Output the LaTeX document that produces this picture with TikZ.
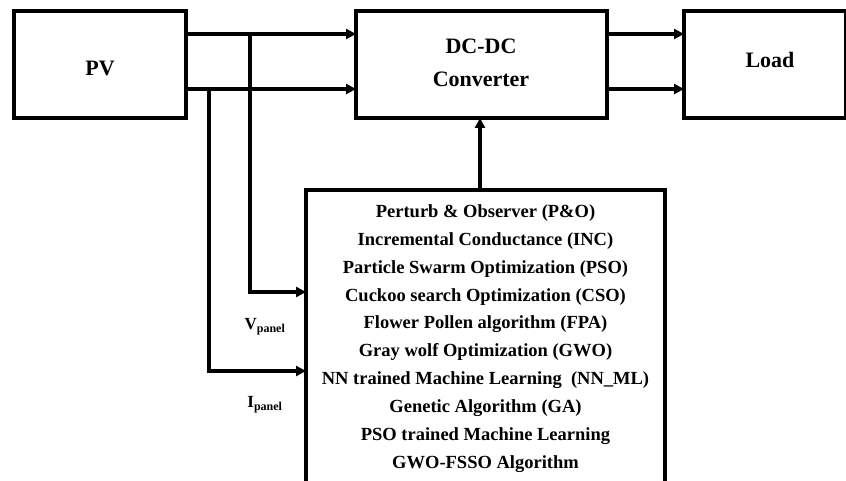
\documentclass[tikz,border=0pt]{standalone}
\usepackage{fontspec}
\setmainfont{Liberation Serif}
\usetikzlibrary{arrows.meta}
\begin{document}
\begin{tikzpicture}[x=1pt,y=-1pt,
  blk/.style={draw,line width=3.8pt,inner sep=0pt},
  conn/.style={line width=3.2pt,-{Triangle[length=10pt,width=10pt]}},
  lbl/.style={font=\bfseries\fontsize{22}{33}\selectfont,align=center},
  alg/.style={font=\bfseries\fontsize{18.5}{27.9}\selectfont,align=center}]
\useasboundingbox (0,0) rectangle (846,481);
\node[blk,minimum width=172pt,minimum height=107pt] (pv) at (100,64.5) {};
\node[lbl] (pvt) at (100,68) {PV};
\node[blk,minimum width=251pt,minimum height=107pt] (dc) at (481.5,64.5) {};
\node[lbl] (dct) at (481,63) {DC-DC\\Converter};
\node[blk,minimum width=162pt,minimum height=107pt] (load) at (765,64.5) {};
\node[lbl] (loadt) at (770,60) {Load};
\draw[blk] (306,600) -- (306,190) -- (665,190) -- (665,600);
\coordinate (algtop) at (480,190);
\coordinate (vin) at (306,292);
\coordinate (iin) at (306,371);
\coordinate (pva) at (186,34);
\coordinate (pvb) at (186,89);
\coordinate (dca) at (356,34);
\coordinate (dcb) at (356,89);
\coordinate (dco) at (607,34);
\coordinate (dcp) at (607,89);
\coordinate (ldA) at (684,34);
\coordinate (ldB) at (684,89);
\coordinate (dcbot) at (480,118);
\coordinate (vj) at (250,34);
\coordinate (ij) at (209,89);
\draw[conn] (pva) -- (dca);
\draw[conn] (pvb) -- (dcb);
\draw[conn] (dco) -- (ldA);
\draw[conn] (dcp) -- (ldB);
\draw[conn] (algtop) -- (dcbot);
\draw[conn] (vj) |- (vin);
\draw[conn] (ij) |- (iin);
\node[font=\bfseries\fontsize{17}{20}\selectfont] (vl) at (265,327) {V\textsubscript{\fontsize{12}{14}\selectfont panel}};
\node[font=\bfseries\fontsize{17}{20}\selectfont] (il) at (265,405) {I\textsubscript{\fontsize{12}{14}\selectfont panel}};
\node[alg,anchor=north] (algt) at (485.5,201) {Perturb \& Observer (P\&O)\\
Incremental Conductance (INC)\\
Particle Swarm Optimization (PSO)\\
Cuckoo search Optimization (CSO)\\
Flower Pollen algorithm (FPA)\\
Gray wolf Optimization (GWO)\\
NN trained Machine Learning~ (NN\_ML)\\
Genetic Algorithm (GA)\\
PSO trained Machine Learning\\
GWO-FSSO Algorithm};
\end{tikzpicture}
\end{document}
